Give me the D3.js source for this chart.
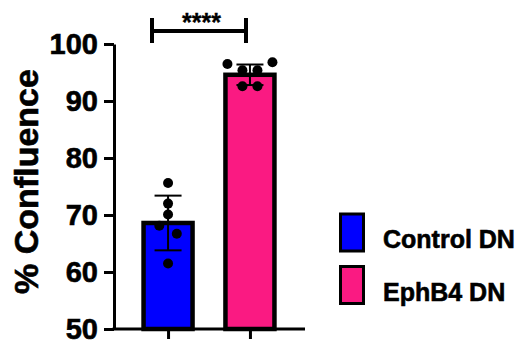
<!DOCTYPE html>
<html>
<head>
<meta charset="utf-8">
<script src="https://cdn.jsdelivr.net/npm/d3@7"></script>
<style>
  body { margin: 0; background: #fff; }
  text { font-family: Arial, "Liberation Sans", Helvetica, sans-serif; font-weight: bold; stroke: #000; stroke-width: 0.6px; }
</style>
</head>
<body>
<svg id="chart"></svg>
<script>
// data
var groups = ["Control DN", "EphB4 DN"];
var colors = ["#0000ff", "#fa1a82"];
var means = [68.6, 94.6];
var sds = [4.8, 1.8];
var controlPoints = [75.6, 72.0, 70.1, 68.1, 66.7, 61.5];
var controlJitter = [0, 0, 0, -1.75, 1.75, 0];   // in dot radii
var ephPoints = [96.5, 95.4, 95.4, 96.8, 92.6, 92.6];
var ephJitter = [-4.5, -1.5, 1.5, 4.5, -1.5, 1.5];
var yTicks = [50, 60, 70, 80, 90, 100];
var sigLabel = "****";

var w = 524, h = 342;
var svg = d3.select("#chart").attr("width", w).attr("height", h);

var y = d3.scaleLinear().domain([50, 100]).range([329, 44]);
var x = d3.scalePoint().domain(groups).range([114, 304]).padding(0.66);

var barW = 49;
var dotR = 5;

// bars
svg.selectAll("rect.bar")
  .data(groups)
  .enter().append("rect")
  .attr("class", "bar")
  .attr("x", d => x(d) - barW / 2)
  .attr("y", (d, i) => y(means[i]))
  .attr("width", barW)
  .attr("height", (d, i) => y(50) - y(means[i]))
  .attr("fill", (d, i) => colors[i])
  .attr("stroke", "#000")
  .attr("stroke-width", 4.5);

// error bars
var capW = 27;
groups.forEach(function(g, i) {
  var cx = x(g);
  var top = y(means[i] + sds[i]);
  var bot = y(means[i] - sds[i]);
  var eb = svg.append("g").attr("stroke", "#000").attr("stroke-width", 2);
  eb.append("line").attr("x1", cx).attr("x2", cx).attr("y1", top).attr("y2", bot);
  eb.append("line").attr("x1", cx - capW / 2).attr("x2", cx + capW / 2).attr("y1", top).attr("y2", top);
  eb.append("line").attr("x1", cx - capW / 2).attr("x2", cx + capW / 2).attr("y1", bot).attr("y2", bot);
});

// dots
var pts = [];
controlPoints.forEach((v, i) => pts.push({ g: groups[0], v: v, j: controlJitter[i] }));
ephPoints.forEach((v, i) => pts.push({ g: groups[1], v: v, j: ephJitter[i] }));

svg.selectAll("circle.pt")
  .data(pts)
  .enter().append("circle")
  .attr("class", "pt")
  .attr("cx", d => x(d.g) + d.j * dotR)
  .attr("cy", d => y(d.v))
  .attr("r", dotR)
  .attr("fill", "#000");

// y axis
var yAxis = svg.append("g")
  .attr("transform", "translate(114,0)")
  .call(d3.axisLeft(y).tickValues(yTicks).tickSize(10).tickSizeOuter(0).tickPadding(6));
yAxis.select(".domain").attr("stroke-width", 3);
yAxis.selectAll(".tick line").attr("stroke-width", 3);
yAxis.selectAll(".tick text")
  .attr("font-size", 29)
  .attr("font-weight", "bold")
  .attr("dy", "0.33em")
  .attr("fill", "#000")
  .style("font-family", "Arial, 'Liberation Sans', sans-serif");

// x axis
var xAxis = svg.append("g")
  .attr("transform", "translate(0,329)")
  .call(d3.axisBottom(x).tickSize(10).tickSizeOuter(0).tickFormat(""));
xAxis.select(".domain").attr("d", "M112.5,0H305").attr("stroke-width", 3);
xAxis.selectAll(".tick line").attr("stroke-width", 3);

// y title
svg.append("text")
  .attr("transform", "translate(38,181.5) rotate(-90)")
  .attr("text-anchor", "middle")
  .attr("font-size", 34)
  .text("% Confluence");

// significance bracket
var bL = 152, bR = 246;
var br = svg.append("g").attr("stroke", "#000").attr("stroke-width", 4).attr("fill", "none");
br.append("line").attr("x1", bL).attr("x2", bL).attr("y1", 18).attr("y2", 43);
br.append("line").attr("x1", bR).attr("x2", bR).attr("y1", 18).attr("y2", 43);
br.append("line").attr("x1", bL).attr("x2", bR).attr("y1", 31).attr("y2", 31);
svg.append("text")
  .attr("x", 201.5)
  .attr("y", 30.5)
  .attr("text-anchor", "middle")
  .attr("font-size", 25)
  .style("stroke-width", "0.3px")
  .text(sigLabel);

// legend
var leg = svg.selectAll("g.leg")
  .data(groups)
  .enter().append("g")
  .attr("class", "leg")
  .attr("transform", (d, i) => "translate(340.5," + (214 + i * 52.5) + ")");
leg.append("rect")
  .attr("width", 23)
  .attr("height", 37)
  .attr("fill", (d, i) => colors[i])
  .attr("stroke", "#000")
  .attr("stroke-width", 3);
leg.append("text")
  .attr("x", 42.5)
  .attr("y", 34)
  .attr("font-size", 25)
  .text(d => d);
</script>
</body>
</html>
